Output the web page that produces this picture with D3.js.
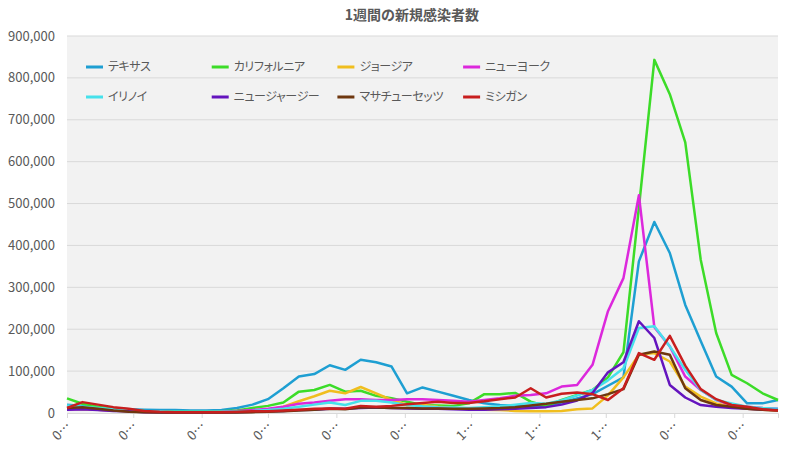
<!DOCTYPE html>
<html>
<head>
<meta charset="utf-8">
<script src="https://cdn.jsdelivr.net/npm/d3@7"></script>
<style>
  body { margin: 0; background: #fff; }
  text { font-family: "Noto Sans CJK JP", "Noto Sans", sans-serif; fill: #595959; }
</style>
</head>
<body>
<div id="chart"></div>
<script>
// weekly new cases, in thousands, one point per week starting 2021-04-01
const states = ["テキサス", "カリフォルニア", "ジョージア", "ニューヨーク", "イリノイ", "ニュージャージー", "マサチューセッツ", "ミシガン"]
const colors = ["#1e9fd2", "#3cdc28", "#f0be1e", "#dc28dc", "#46e1eb", "#6414be", "#6e370f", "#c81e1e"]
const yTicks = [0, 100, 200, 300, 400, 500, 600, 700, 800, 900]

const texas = [20, 17, 14, 11, 9, 8, 7, 7, 6, 6, 7, 12, 20,
  33, 59, 87, 93, 114, 103, 127, 121, 111, 47, 61,
  51, 41, 31, 23, 19, 17, 17, 17, 25, 35, 45, 65,
  85, 362, 456, 382, 258, 172, 87, 63, 23, 23, 31]
const california = [35, 22, 15, 10, 7, 5, 4, 3, 3, 3, 4, 6, 12,
  17, 25, 51, 55, 67, 51, 53, 41, 35, 27, 19,
  18, 17, 23, 45, 45, 48, 27, 17, 31, 43, 55, 85,
  145, 490, 843, 761, 646, 366, 191, 91, 71, 47, 31]
const georgia = [10, 9, 8, 6, 4, 3, 2, 2, 2, 2, 2, 3, 4,
  8, 15, 28, 40, 53, 47, 62, 47, 31, 19, 20,
  15, 12, 10, 8, 7, 5, 4, 4, 5, 9, 11, 42,
  85, 139, 143, 123, 63, 39, 23, 15, 10, 8, 6]
const newYork = [8, 10, 8, 6, 5, 3, 2, 2, 2, 2, 3, 5, 7,
  10, 15, 22, 25, 29, 33, 33, 31, 31, 33, 33,
  31, 29, 27, 31, 35, 41, 43, 47, 63, 67, 115, 243,
  322, 520, 205, 159, 87, 55, 31, 19, 15, 12, 10]
const illinois = [18, 15, 12, 9, 7, 5, 4, 3, 3, 3, 3, 4, 5,
  7, 10, 15, 20, 25, 19, 29, 29, 25, 19, 16,
  14, 13, 12, 14, 16, 20, 24, 22, 30, 42, 55, 78,
  107, 203, 207, 159, 103, 55, 31, 23, 15, 12, 10]
const newJersey = [8, 9, 7, 5, 4, 2, 2, 1, 1, 1, 1, 2, 3,
  4, 5, 7, 8, 10, 10, 12, 13, 12, 11, 10,
  10, 9, 8, 8, 9, 10, 12, 14, 20, 30, 48, 97,
  121, 219, 179, 67, 37, 19, 15, 12, 10, 8, 7]
const massachusetts = [12, 14, 10, 6, 3, 2, 1, 1, 1, 1, 1, 1, 2,
  3, 4, 6, 8, 10, 9, 13, 13, 12, 12, 11,
  11, 10, 10, 11, 12, 14, 18, 22, 27, 31, 35, 45,
  57, 139, 147, 139, 59, 31, 19, 15, 10, 8, 6]
const michigan = [12, 26, 20, 14, 10, 5, 3, 2, 2, 2, 2, 3, 4,
  4, 6, 8, 10, 11, 10, 17, 15, 17, 21, 24,
  27, 24, 24, 28, 33, 37, 59, 37, 46, 49, 45, 31,
  59, 143, 127, 184, 113, 57, 33, 19, 15, 9, 6]

const series = [texas, california, georgia, newYork, illinois, newJersey, massachusetts, michigan]

const start = new Date(2021, 3, 1)
const weeks = texas.map((v, i) => d3.timeDay.offset(start, i * 7))

// set the dimensions and margins of the graph
const W = 800, H = 450
const margin = {top: 36, right: 22, bottom: 37, left: 67},
      width = W - margin.left - margin.right,
      height = H - margin.top - margin.bottom

const svg = d3.select("#chart")
  .append("svg")
  .attr("width", W)
  .attr("height", H)

// title
svg.append("text")
  .attr("x", 412)
  .attr("y", 20)
  .attr("text-anchor", "middle")
  .style("font-size", "14px")
  .style("font-weight", "bold")
  .text("1週間の新規感染者数")

const g = svg.append("g")
  .attr("transform", `translate(${margin.left}, ${margin.top})`)

const x = d3.scaleTime()
  .domain([weeks[0], weeks[weeks.length - 1]])
  .range([0, width])

const y = d3.scaleLinear()
  .domain([0, 900])
  .range([height, 0])

// plot area
g.append("rect")
  .attr("width", width)
  .attr("height", height)
  .attr("fill", "#f2f2f2")

// gridlines + y labels
g.selectAll("line.grid")
  .data(yTicks.filter(d => d > 0))
  .join("line")
    .attr("class", "grid")
    .attr("x1", 0).attr("x2", width)
    .attr("y1", d => y(d)).attr("y2", d => y(d))
    .attr("stroke", "#d9d9d9")

g.selectAll("text.ylab")
  .data(yTicks)
  .join("text")
    .attr("class", "ylab")
    .attr("x", -12)
    .attr("y", d => y(d))
    .attr("dy", "0.35em")
    .attr("text-anchor", "end")
    .style("font-size", "13px")
    .text(d => d3.format(",")(d * 1000))

// x axis: monthly ticks, labels cut off like in the original
const xAxis = g.append("g")
  .attr("transform", `translate(0, ${height})`)
  .call(d3.axisBottom(x).ticks(d3.timeMonth.every(1)).tickSize(5).tickFormat(""))
xAxis.selectAll("path, line").attr("stroke", "#d9d9d9")

const fmt = d3.timeFormat("%m/%d")
g.selectAll("text.xlab")
  .data(x.ticks(d3.timeMonth.every(1)))
  .join("text")
    .attr("class", "xlab")
    .attr("transform", d => `translate(${x(d) + 5}, ${height + 14}) rotate(-45)`)
    .attr("text-anchor", "end")
    .style("font-size", "13px")
    .text(d => fmt(d).slice(0, 1) + "…")

// lines
const line = d3.line()
  .x((d, i) => x(weeks[i]))
  .y(d => y(d))

g.selectAll("path.line")
  .data(series)
  .join("path")
    .attr("class", "line")
    .attr("d", line)
    .attr("fill", "none")
    .attr("stroke", (d, i) => colors[i])
    .attr("stroke-width", 2.5)
    .attr("stroke-linejoin", "round")

// legend, 4 columns x 2 rows inside the plot
const legend = svg.selectAll("g.legend")
  .data(states)
  .join("g")
    .attr("class", "legend")
    .attr("transform", (d, i) => `translate(${86 + (i % 4) * 125.7}, ${67 + Math.floor(i / 4) * 30})`)

legend.append("line")
  .attr("x1", 0).attr("x2", 17)
  .attr("stroke", (d, i) => colors[i])
  .attr("stroke-width", 3)

legend.append("text")
  .attr("x", 22)
  .attr("dy", "0.35em")
  .style("font-size", "12px")
  .style("letter-spacing", "-0.4px")
  .style("font-feature-settings", "'palt'")
  .text(d => d)
</script>
</body>
</html>
